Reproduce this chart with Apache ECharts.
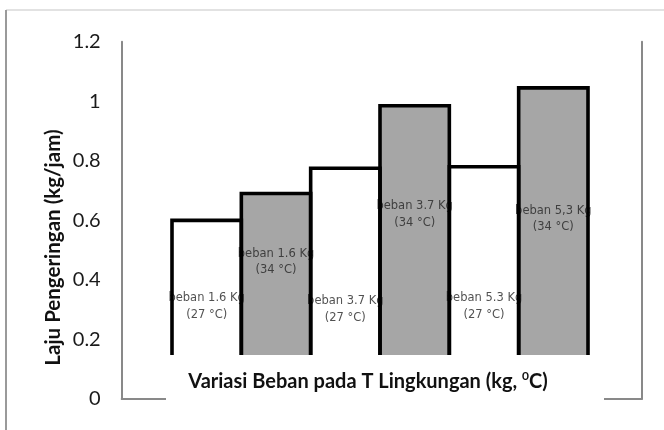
<!DOCTYPE html>
<html>
<head>
<meta charset="utf-8">
<script src="https://cdn.jsdelivr.net/npm/echarts@6/dist/echarts.min.js"></script>
<style>
  html, body { margin: 0; padding: 0; background: #fff; }
  #chart { width: 664px; height: 430px; }
</style>
</head>
<body>
<div id="chart"></div>
<script>
// Laju pengeringan untuk tiap variasi beban dan suhu lingkungan
const loads = ['1.6', '1.6', '3.7', '3.7', '5.3', '5,3'];
const temps = ['27', '34', '27', '34', '27', '34'];
const rates = [0.60, 0.69, 0.775, 0.985, 0.78, 1.045];
// height (in kg/jam) at which each bar's caption is centred
const captionLevels = [0.31, 0.46, 0.30, 0.62, 0.31, 0.605];
const yMin = 0, yMax = 1.2, yStep = 0.2;

const names = loads.map((l, i) => 'beban ' + l + ' Kg (' + temps[i] + ' °C)');
const frameColor = '#898989';

const chart = echarts.init(document.getElementById('chart'), null, { renderer: 'canvas' });

const frameLine = { show: true, onZero: false, lineStyle: { color: frameColor, width: 2 } };

// open outline (left, top, right edges) of each bar, stroked centred on the bar edges
function barOutline(params, api) {
  const i = api.value(0);
  const top = api.coord([i, api.value(1)]);
  const base = api.coord([i, 0]);
  const half = api.size([1, 0])[0] / 2;
  return {
    type: 'polyline',
    shape: { points: [[top[0] - half, base[1]], [top[0] - half, top[1]], [top[0] + half, top[1]], [top[0] + half, base[1]]] },
    style: { stroke: '#000', lineWidth: 3.6, fill: null, lineJoin: 'miter' }
  };
}

chart.setOption({
  animation: false,
  backgroundColor: '#fff',
  grid: [
    // bars
    { left: 172, right: 76, top: 41.7, bottom: 31, outerBoundsMode: 'none', containLabel: false },
    // plot frame with the value scale
    { left: 121.7, right: 22.3, top: 41.7, bottom: 31, outerBoundsMode: 'none', containLabel: false }
  ],
  xAxis: [
    { gridIndex: 0, type: 'category', data: names, show: false },
    { gridIndex: 1, type: 'value', min: 0, max: 1, axisLine: frameLine,
      axisTick: { show: false }, axisLabel: { show: false }, splitLine: { show: false } }
  ],
  yAxis: [
    { gridIndex: 0, type: 'value', min: yMin, max: yMax, interval: yStep, show: false },
    { gridIndex: 1, type: 'value', min: yMin, max: yMax, interval: yStep, position: 'left',
      axisLine: frameLine, axisTick: { show: false }, splitLine: { show: false },
      axisLabel: { margin: 21, fontFamily: 'Lato', fontSize: 20, color: '#1a1a1a' } },
    { gridIndex: 1, type: 'value', min: yMin, max: yMax, interval: yStep, position: 'right',
      axisLine: frameLine, axisTick: { show: false }, splitLine: { show: false },
      axisLabel: { show: false } }
  ],
  series: [
    {
      type: 'bar', xAxisIndex: 0, yAxisIndex: 0, data: rates,
      barWidth: '100%', z: 2, silent: true,
      itemStyle: { color: p => temps[p.dataIndex] === '34' ? '#a6a6a6' : '#ffffff' }
    },
    {
      type: 'scatter', xAxisIndex: 0, yAxisIndex: 0, z: 3, silent: true,
      data: captionLevels.map((v, i) => [i, v]),
      symbolSize: 1, itemStyle: { color: 'rgba(0,0,0,0)' },
      label: {
        show: true, position: 'inside',
        formatter: p => 'beban ' + loads[p.dataIndex] + ' Kg\n(' + temps[p.dataIndex] + ' °C)',
        fontFamily: 'DejaVu Sans', fontSize: 11.5, lineHeight: 16.5, color: '#262626'
      }
    },
    {
      type: 'custom', xAxisIndex: 0, yAxisIndex: 0, z: 4, silent: true,
      data: rates.map((v, i) => [i, v]),
      encode: { x: 0, y: 1 },
      renderItem: barOutline
    }
  ],
  graphic: {
    elements: [
      // chart border
      { type: 'line', z: 100, shape: { x1: 6, y1: 10, x2: 664, y2: 10 },
        style: { stroke: '#d9d9d9', lineWidth: 1.5 } },
      { type: 'line', z: 100, shape: { x1: 6, y1: 10, x2: 6, y2: 430 },
        style: { stroke: '#9a9a9a', lineWidth: 2 } },
      // box holding the category-axis title
      { type: 'rect', z: 100, shape: { x: 166, y: 355, width: 438, height: 46 },
        style: { fill: '#ffffff' } },
      { type: 'text', z: 101, x: 368, y: 381.7,
        style: {
          text: '{a|Variasi Beban pada T Lingkungan (kg, }{s|0}{a|C)}',
          align: 'center', verticalAlign: 'middle',
          rich: {
            a: { fontFamily: 'Lato', fontWeight: 'bold', fontSize: 20, lineHeight: 24, fill: '#111' },
            s: { fontFamily: 'Lato', fontWeight: 'bold', fontSize: 12, lineHeight: 24, verticalAlign: 'top', fill: '#111' }
          }
        } },
      { type: 'text', z: 101, x: 53, y: 247.5, rotation: Math.PI / 2,
        style: {
          text: 'Laju Pengeringan (kg/jam)',
          align: 'center', verticalAlign: 'middle',
          fontFamily: 'Lato', fontWeight: 'bold', fontSize: 20.5, fill: '#111'
        } }
    ]
  }
});
</script>
</body>
</html>
